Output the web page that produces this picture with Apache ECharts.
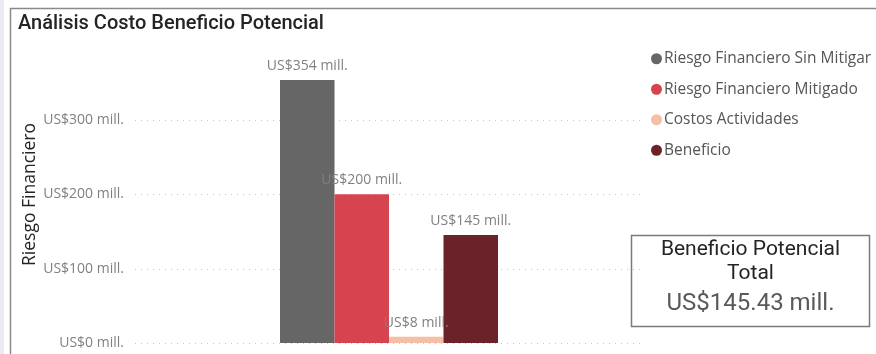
<!DOCTYPE html>
<html>
<head>
<meta charset="utf-8">
<script src="https://cdn.jsdelivr.net/npm/echarts@6/dist/echarts.min.js"></script>
<style>
  html, body { margin: 0; padding: 0; background: #ffffff; }
  #chart { width: 876px; height: 354px; }
</style>
</head>
<body>
<div id="chart"></div>
<script>
// Risk / cost / benefit values, in millions of US$
const categories = [''];
const seriesNames = [
  'Riesgo Financiero Sin Mitigar',
  'Riesgo Financiero Mitigado',
  'Costos Actividades',
  'Beneficio'
];
const seriesValues = [354.2, 200.3, 8.47, 145.43];
const seriesColors = ['#666666', '#D6444F', '#F4BFA5', '#6B2228'];
const yTicks = [0, 100, 200, 300, 400];
const totalBenefit = 145.43;

const fmtMill = v => 'US$' + Math.round(v) + ' mill.';

const chart = echarts.init(document.getElementById('chart'), null, { renderer: 'canvas' });

const series = seriesNames.map((name, i) => ({
  name: name,
  type: 'bar',
  data: [seriesValues[i]],
  barWidth: 54.5,
  barGap: '0%',
  itemStyle: { color: seriesColors[i] },
  label: {
    show: true,
    position: 'top',
    distance: 7,
    formatter: p => fmtMill(p.value),
    fontFamily: 'Open Sans',
    fontSize: 14,
    color: '#808080'
  }
}));

chart.setOption({
  animation: false,
  backgroundColor: '#ffffff',
  title: {
    text: 'Análisis Costo Beneficio Potencial',
    left: 13,
    top: 9,
    textStyle: {
      fontFamily: 'Roboto',
      fontWeight: 500,
      fontSize: 20,
      color: '#252423'
    }
  },
  legend: {
    orient: 'vertical',
    left: 646,
    top: 45,
    icon: 'circle',
    itemWidth: 11,
    itemHeight: 11,
    itemGap: 13,
    data: seriesNames,
    textStyle: {
      fontFamily: 'Open Sans',
      fontSize: 15.5,
      lineHeight: 17.5,
      color: '#555555',
      padding: [0, 0, 0, -3]
    }
  },
  grid: {
    left: 135,
    right: 233,
    top: 46,
    bottom: 11,
    containLabel: false
  },
  xAxis: {
    type: 'category',
    data: categories,
    axisLine: { show: false },
    axisTick: { show: false },
    axisLabel: { show: false }
  },
  yAxis: {
    type: 'value',
    min: yTicks[0],
    max: yTicks[yTicks.length - 1],
    interval: yTicks[1] - yTicks[0],
    name: 'Riesgo Financiero',
    nameLocation: 'middle',
    nameGap: 96,
    nameMoveOverlap: false,
    nameTextStyle: {
      fontFamily: 'Open Sans',
      fontSize: 17.5,
      color: '#252423'
    },
    axisLine: { show: false },
    axisTick: { show: false },
    axisLabel: {
      margin: 11,
      showMaxLabel: false,
      fontFamily: 'Open Sans',
      fontSize: 14,
      color: '#808080',
      formatter: v => fmtMill(v)
    },
    splitLine: {
      show: true,
      showMaxLine: false,
      lineStyle: { color: '#c4c4c4', type: [1, 5], width: 1 }
    }
  },
  series: series,
  graphic: [
    // light strip on the far left
    { type: 'rect', z: -10, silent: true,
      shape: { x: 0, y: 0, width: 4, height: 354 },
      style: { fill: '#E8ECF2' } },
    // panel border (left and top)
    { type: 'polyline', z: 10, silent: true,
      shape: { points: [[10.5, 354], [10.5, 8.5], [876, 8.5]] },
      style: { stroke: '#8a8a8a', lineWidth: 1.5, fill: null } },
    // total benefit card
    { type: 'group', z: 20, children: [
      { type: 'rect',
        shape: { x: 631.5, y: 235.5, width: 238, height: 91 },
        style: { fill: '#ffffff', stroke: '#7a7a7a', lineWidth: 1.5 } },
      { type: 'text',
        style: { x: 750.5, y: 250, text: 'Beneficio Potencial', align: 'center', verticalAlign: 'middle',
                 font: '21px Roboto', fill: '#252423' } },
      { type: 'text',
        style: { x: 750.5, y: 274, text: 'Total', align: 'center', verticalAlign: 'middle',
                 font: '21px Roboto', fill: '#252423' } },
      { type: 'text',
        style: { x: 750.5, y: 304, text: 'US$' + totalBenefit.toFixed(2) + ' mill.', align: 'center', verticalAlign: 'middle',
                 font: '24px Roboto', fill: '#595959' } }
    ] }
  ]
});
</script>
</body>
</html>
